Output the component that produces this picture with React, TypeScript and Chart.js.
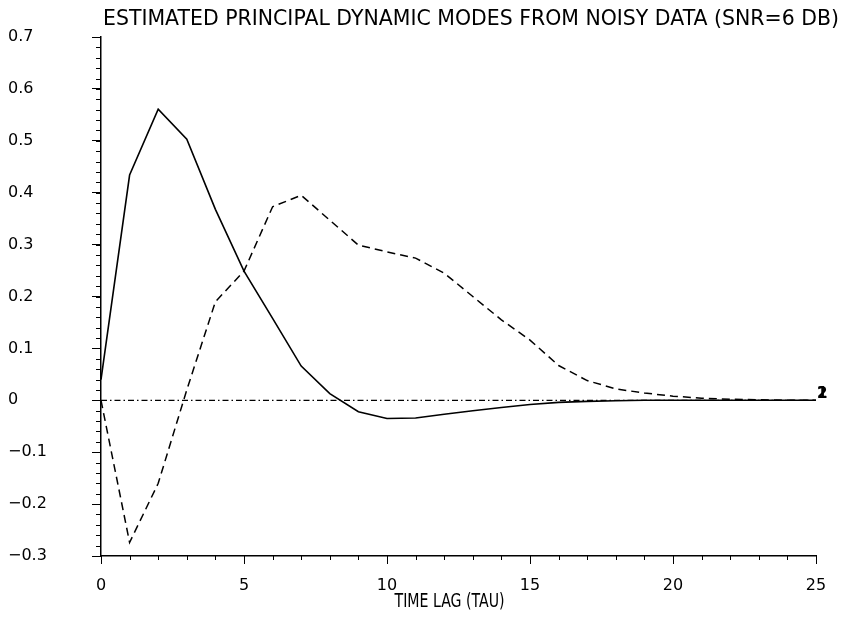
import React, { useEffect, useRef } from 'react';
import { Chart, registerables } from 'chart.js';

Chart.register(...registerables);

const titleText = 'ESTIMATED PRINCIPAL DYNAMIC MODES FROM NOISY DATA (SNR=6 DB)';
const xAxisTitle = 'TIME LAG (TAU)';
const lags = [0, 1, 2, 3, 4, 5, 6, 7, 8, 9, 10, 11, 12, 13, 14, 15, 16, 17, 18, 19, 20, 21, 22, 23, 24, 25];
const mode1 = [0.04, 0.434, 0.561, 0.503, 0.368, 0.249, 0.158, 0.066, 0.013, -0.022, -0.035, -0.034, -0.027, -0.02, -0.014, -0.008, -0.004, -0.002, -0.001, 0, 0, 0, 0, 0, 0, 0];
const mode2 = [0, -0.274, -0.16, 0.02, 0.19, 0.249, 0.373, 0.395, 0.347, 0.299, 0.286, 0.274, 0.245, 0.2, 0.155, 0.116, 0.067, 0.038, 0.022, 0.014, 0.008, 0.004, 0.002, 0.001, 0, 0];
const baselineLags = [0, 25];
const baseline = [0, 0];
const endLabels = ['1', '2'];
const xMajorStep = 5;
const xMinorStep = 1;
const yMajorStep = 0.1;
const yMinorStep = 0.02;
const yMin = -0.3;
const yMax = 0.7;
const xMin = 0;
const xMax = 25;

const TITLE_FONT = '"DejaVu Sans", sans-serif';
const AXIS_TITLE_FONT = '"DejaVu Sans Condensed", "Liberation Sans Narrow", "DejaVu Sans", sans-serif';

const toPoints = (xs: number[], ys: number[]) => xs.map((x, i) => ({ x, y: ys[i] }));

const decorPlugin = {
  id: 'decor',
  afterDraw(chart: any) {
    const { ctx, chartArea, scales } = chart;
    const xs = scales.x;
    const ys = scales.y;
    ctx.save();
    ctx.strokeStyle = '#000';
    ctx.lineWidth = 1;
    // minor ticks x
    for (let v = xMin; v <= xMax + 1e-9; v += xMinorStep) {
      const px = Math.round(xs.getPixelForValue(v)) + 0.5;
      ctx.beginPath();
      ctx.moveTo(px, chartArea.bottom);
      ctx.lineTo(px, chartArea.bottom + 4);
      ctx.stroke();
    }
    // minor ticks y
    const n = Math.round((yMax - yMin) / yMinorStep);
    for (let i = 0; i <= n; i++) {
      const v = yMin + i * yMinorStep;
      const py = Math.round(ys.getPixelForValue(v)) + 0.5;
      ctx.beginPath();
      ctx.moveTo(chartArea.left - 5, py);
      ctx.lineTo(chartArea.left, py);
      ctx.stroke();
    }
    // end labels
    ctx.fillStyle = '#000';
    ctx.font = 'bold 15px "DejaVu Sans", sans-serif';
    ctx.textAlign = 'left';
    ctx.textBaseline = 'middle';
    [0, 1].forEach((di) => {
      const meta = chart.getDatasetMeta(di);
      const pt = meta.data[meta.data.length - 1];
      if (pt) ctx.fillText(endLabels[di], pt.x + 1, pt.y - 6);
    });
    // main title
    ctx.font = '21px ' + TITLE_FONT;
    ctx.textAlign = 'center';
    ctx.textBaseline = 'middle';
    ctx.fillText(titleText, 471, 20, 736);
    // x axis title
    ctx.font = '19px ' + AXIS_TITLE_FONT;
    ctx.fillText(xAxisTitle, (chartArea.left + chartArea.right) / 2 - 9, 602, 110);
    ctx.restore();
  },
};

export default function App() {
  const ref = useRef<HTMLCanvasElement | null>(null);
  useEffect(() => {
    if (!ref.current) return;
    const chart = new Chart(ref.current, {
      type: 'line',
      data: {
        datasets: [
          {
            label: 'Mode 1',
            data: toPoints(lags, mode1),
            borderColor: '#000',
            borderWidth: 1.6,
            pointRadius: 0,
            tension: 0,
            fill: false,
          },
          {
            label: 'Mode 2',
            data: toPoints(lags, mode2),
            borderColor: '#000',
            borderWidth: 1.5,
            borderDash: [8, 5],
            pointRadius: 0,
            tension: 0,
            fill: false,
          },
          {
            label: 'Zero',
            data: toPoints(baselineLags, baseline),
            borderColor: '#000',
            borderWidth: 1.2,
            borderDash: [6, 3, 1.5, 3],
            pointRadius: 0,
            fill: false,
          },
        ],
      },
      plugins: [decorPlugin],
      options: {
        animation: false,
        responsive: false,
        devicePixelRatio: 1,
        layout: { padding: { left: 8, top: 37, right: 26, bottom: 0 } },
        plugins: {
          legend: { display: false },
          tooltip: { enabled: false },
          title: { display: false },
        },
        scales: {
          x: {
            type: 'linear',
            min: xMin,
            max: xMax,
            afterFit: (s: any) => { s.height = 62; },
            ticks: {
              stepSize: xMajorStep,
              color: '#000',
              font: { family: '"DejaVu Sans", sans-serif', size: 16 },
              padding: 12,
              maxRotation: 0,
            },
            grid: { drawOnChartArea: false, drawTicks: true, tickLength: 8, color: '#000', lineWidth: 1 },
            border: { display: true, color: '#000', width: 1.5 },
          },
          y: {
            type: 'linear',
            min: yMin,
            max: yMax,
            afterFit: (s: any) => { s.width = 93; },
            ticks: {
              stepSize: yMajorStep,
              color: '#000',
              crossAlign: 'far',
              font: { family: '"DejaVu Sans", sans-serif', size: 16 },
              callback: (v: any) => {
                const r = Math.round(Number(v) * 10) / 10;
                if (r === 0) return '0';
                return r < 0 ? '\u2212' + String(Math.abs(r)) : String(r);
              },
            },
            grid: { drawOnChartArea: false, drawTicks: true, tickLength: 9, color: '#000', lineWidth: 1 },
            border: { display: true, color: '#000', width: 1.5 },
          },
        },
      },
    } as any);
    return () => chart.destroy();
  }, []);
  return (
    <div style={{ position: 'absolute', left: 0, top: 0, width: 842, height: 618, background: '#fff' }}>
      <canvas ref={ref} width={842} height={618} style={{ width: 842, height: 618, display: 'block' }} />
    </div>
  );
}
